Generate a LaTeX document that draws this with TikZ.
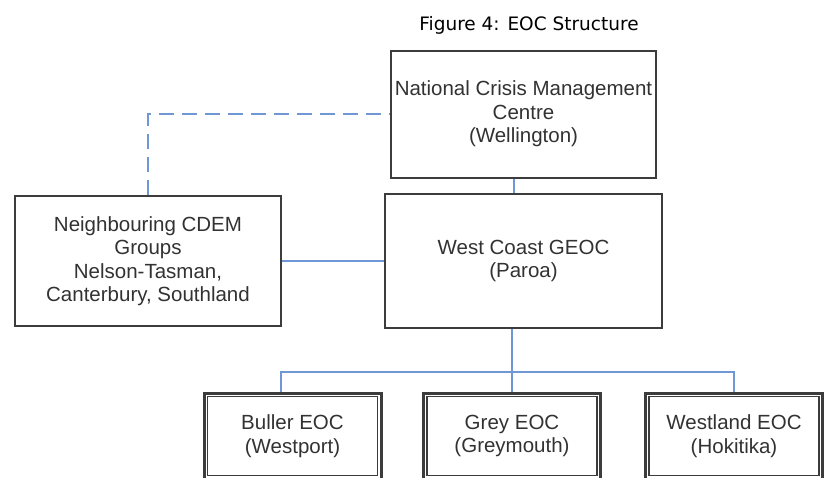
\documentclass[tikz,border=0pt]{standalone}
\usepackage{fontspec}
\setmainfont{Liberation Sans}
\newfontfamily\titlefont{DejaVu Sans}
\usepackage{xcolor}
\usetikzlibrary{calc}
\definecolor{linkblue}{RGB}{111,151,214}
\definecolor{boxgrey}{RGB}{60,60,60}
\definecolor{textgrey}{RGB}{50,50,50}

\tikzset{
  box/.style={rectangle, draw=boxgrey, line width=2pt, inner sep=0pt, align=center,
    text=textgrey, font=\fontsize{20.5}{23.5}\selectfont},
  eocbox/.style={box, line width=3pt, minimum width=177pt, minimum height=86pt},
  link/.style={draw=linkblue, line width=2pt},
  dashlink/.style={link, dash pattern=on 15pt off 8pt},
}

\begin{document}
\begin{tikzpicture}[x=1pt, y=-1pt]
      \clip (0,0) rectangle (827,477);
      \node[anchor=base, font=\titlefont\fontsize{18.5}{22}\selectfont] (title) at (529,30) {Figure 4: EOC Structure};

      \node[box, minimum width=265pt, minimum height=127pt] (ncmc) at (523.5,114) {National Crisis Management\\Centre\\(Wellington)};
      \node[box, minimum width=277pt, minimum height=134pt] (geoc) at (523.5,261) {West Coast GEOC\\(Paroa)};
      \node[box, minimum width=266pt, minimum height=130pt] (nbr) at (148,261) {Neighbouring CDEM\\Groups\\Nelson-Tasman,\\Canterbury, Southland};

      \node[eocbox] (buller) at (292.5,436) {Buller EOC\\(Westport)};
      \node[eocbox] (grey) at (512,436) {Grey EOC\\(Greymouth)};
      \node[eocbox] (westland) at (734,436) {Westland EOC\\(Hokitika)};

      % inner frame of the EOC boxes
      \foreach \n in {buller, grey, westland}
        \draw[boxgrey, line width=1.3pt] ([shift={(5,5)}]\n.north west) rectangle ([shift={(-5,-5)}]\n.south east);

      \coordinate (bus) at (512,372);

      \draw[link] ([xshift=-9.5pt]ncmc.south) -- ([xshift=-9.5pt]geoc.north);
      \draw[link] (nbr.east) -- (geoc.west);
      \draw[dashlink] (nbr.north) -- (nbr.north |- ncmc.west) -- (ncmc.west);
      \draw[link] (grey.north |- geoc.south) -- (grey.north);
      \draw[link] ([xshift=-11.5pt]buller.north) |- (bus) -| (westland.north);
    \end{tikzpicture}
\end{document}
